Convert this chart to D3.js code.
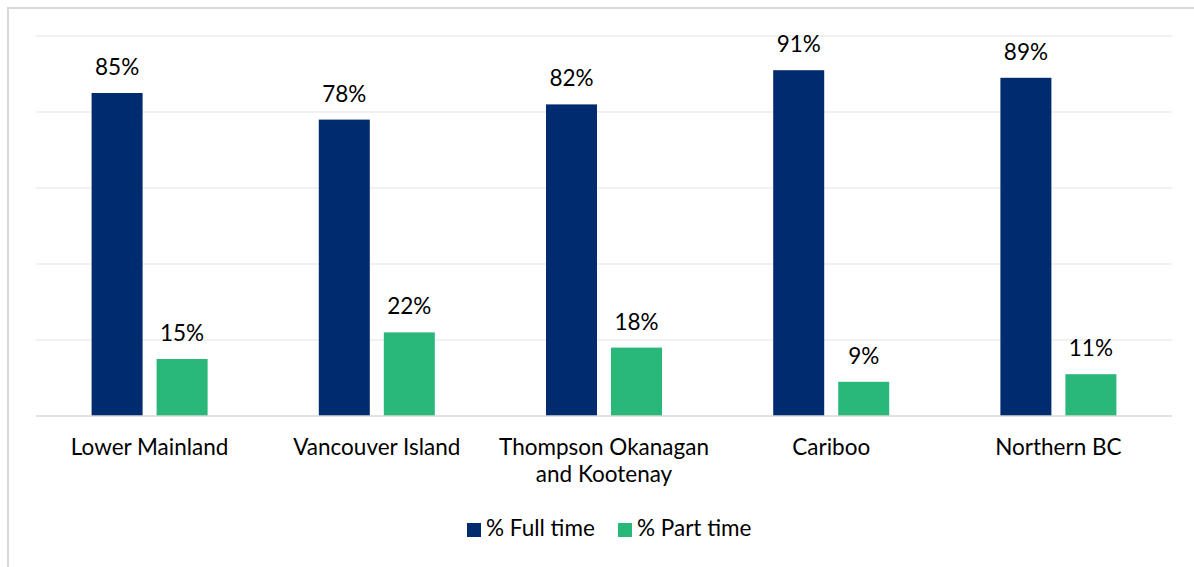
<!DOCTYPE html>
<html>
<head>
<meta charset="utf-8">
<script src="https://d3js.org/d3.v7.min.js"></script>
<style>
  body { margin: 0; background: #fff; }
  text { font-family: Lato, "Open Sans", sans-serif; fill: #000; }
</style>
</head>
<body>
<div id="chart"></div>
<script>
var regions = ["Lower Mainland", "Vancouver Island", "Thompson Okanagan and Kootenay", "Cariboo", "Northern BC"];
var fullTime = [85, 78, 82, 91, 89];
var partTime = [15, 22, 18, 9, 11];
var seriesNames = ["% Full time", "% Part time"];
var yTicks = [0, 20, 40, 60, 80, 100];

var width = 1194, height = 567;
var colors = ["#002b6e", "#2ab77a"];
var fontSize = 22.5;

var svg = d3.select("#chart").append("svg")
    .attr("width", width)
    .attr("height", height);

// outer border (only top and left visible in the frame)
svg.append("rect")
    .attr("x", 8).attr("y", 8)
    .attr("width", width + 10).attr("height", height + 10)
    .attr("fill", "none")
    .attr("stroke", "#d9d9d9")
    .attr("stroke-width", 2);

var x = d3.scaleBand().domain(regions).range([36, 1172]);
var y = d3.scaleLinear().domain([0, 100]).range([416, 36]);

var barW = 51, halfGap = 7;

// gridlines
svg.append("g").selectAll("line")
    .data(yTicks.filter(function(d) { return d > 0; }))
    .enter().append("line")
    .attr("x1", 36).attr("x2", 1172)
    .attr("y1", function(d) { return y(d); })
    .attr("y2", function(d) { return y(d); })
    .attr("stroke", "#ececec")
    .attr("stroke-width", 1.3);

var rows = regions.map(function(r, i) { return {region: r, vals: [fullTime[i], partTime[i]]}; });

var groups = svg.append("g").selectAll("g")
    .data(rows)
    .enter().append("g")
    .attr("transform", function(d) { return "translate(" + (x(d.region) + x.bandwidth() / 2) + ",0)"; });

groups.selectAll("rect")
    .data(function(d) { return d.vals; })
    .enter().append("rect")
    .attr("x", function(d, j) { return j == 0 ? -halfGap - barW : halfGap; })
    .attr("y", function(d) { return y(d); })
    .attr("width", barW)
    .attr("height", function(d) { return y(0) - y(d); })
    .attr("fill", function(d, j) { return colors[j]; });

groups.selectAll("text.val")
    .data(function(d) { return d.vals; })
    .enter().append("text")
    .attr("class", "val")
    .attr("x", function(d, j) { return j == 0 ? -halfGap - barW / 2 : halfGap + barW / 2; })
    .attr("y", function(d) { return y(d) - 18; })
    .attr("text-anchor", "middle")
    .attr("font-size", fontSize)
    .text(function(d) { return d + "%"; });

// baseline
svg.append("line")
    .attr("x1", 36).attr("x2", 1172)
    .attr("y1", y(0)).attr("y2", y(0))
    .attr("stroke", "#d9d9d9")
    .attr("stroke-width", 1.5);

// category labels, wrapped like the original
var labelLines = {
    "Thompson Okanagan and Kootenay": ["Thompson Okanagan", "and Kootenay"]
};
groups.append("text")
    .attr("text-anchor", "middle")
    .attr("font-size", fontSize)
    .selectAll("tspan")
    .data(function(d) { return labelLines[d.region] || [d.region]; })
    .enter().append("tspan")
    .attr("x", 0)
    .attr("y", function(d, i) { return 455 + i * 27; })
    .text(function(d) { return d; });

// legend
var legendX = [467, 618];
var legend = svg.append("g").selectAll("g")
    .data(seriesNames)
    .enter().append("g")
    .attr("transform", function(d, i) { return "translate(" + legendX[i] + ",523)"; });
legend.append("rect")
    .attr("width", 14).attr("height", 14)
    .attr("fill", function(d, i) { return colors[i]; });
legend.append("text")
    .attr("x", 19).attr("y", 13)
    .attr("font-size", fontSize)
    .text(function(d) { return d; });
</script>
</body>
</html>
